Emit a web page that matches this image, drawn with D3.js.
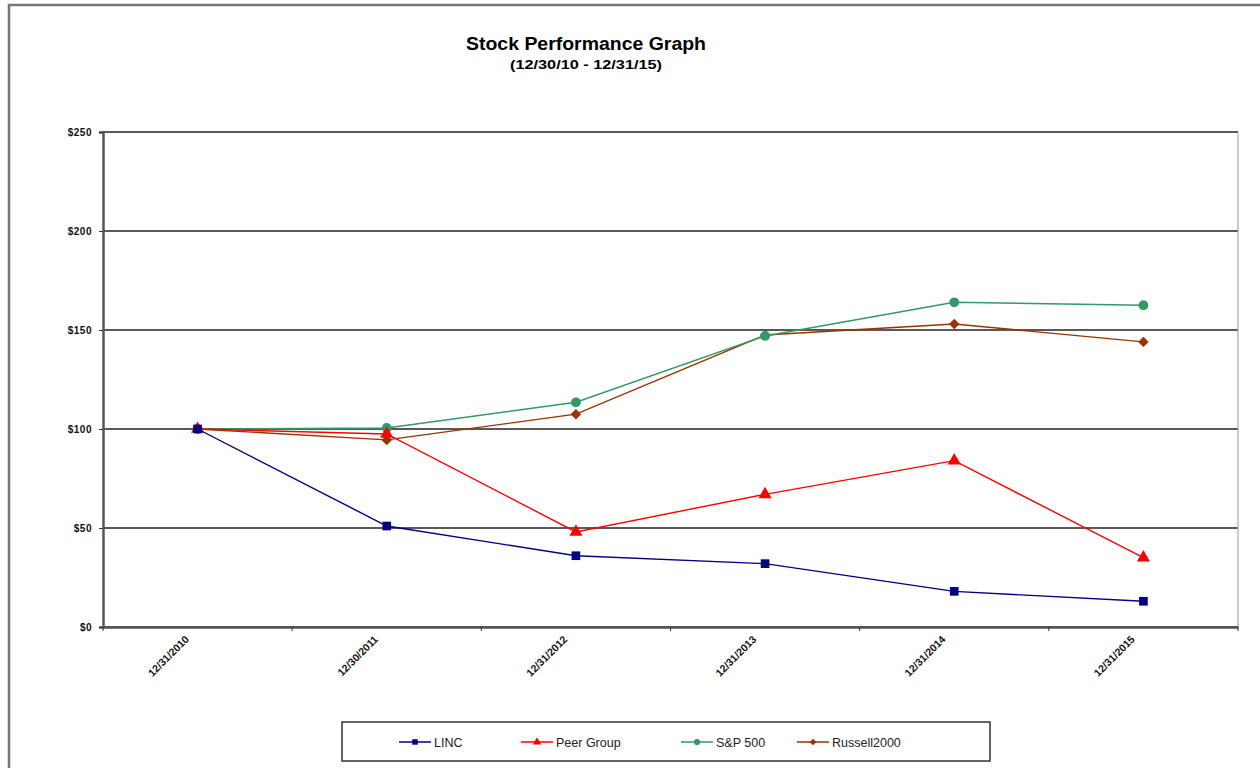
<!DOCTYPE html>
<html>
<head>
<meta charset="utf-8">
<script src="https://cdn.jsdelivr.net/npm/d3@7"></script>
<style>
  body { margin: 0; background: #fff; }
  text { font-family: "Liberation Sans", Arial, sans-serif; }
</style>
</head>
<body>
<div id="chart"></div>
<script>
const dates = ['12/31/2010', '12/30/2011', '12/31/2012', '12/31/2013', '12/31/2014', '12/31/2015'];
const linc = [100, 51, 36, 32, 18, 13];
const peer_group = [100, 97.5, 48, 67, 84, 35];
const sp500 = [100, 100.5, 113.5, 147, 164, 162.5];
const russell2000 = [100, 94.5, 107.5, 147.5, 153, 144];
const y_ticks = [0, 50, 100, 150, 200, 250];

const series = [
    {name: 'LINC', values: linc, color: '#000080', shape: 'square'},
    {name: 'Peer Group', values: peer_group, color: '#ff0000', shape: 'triangle'},
    {name: 'S&P 500', values: sp500, color: '#339966', shape: 'circle'},
    {name: 'Russell2000', values: russell2000, color: '#993300', shape: 'diamond'}
];

const width = 1260;
const height = 768;
const plot_left = 103;
const plot_right = 1238;
const plot_top = 132;
const plot_bottom = 627;

const svg = d3.select('#chart').append('svg')
    .attr('width', width)
    .attr('height', height);

// outer frame (runs off the right and bottom edge)
svg.append('path')
   .attr('d', 'M9,' + height + 'V5H' + width)
   .attr('fill', 'none')
   .attr('stroke', '#777')
   .attr('stroke-width', 2.5);

svg.append('text')
   .text('Stock Performance Graph')
   .attr('x', 586).attr('y', 50)
   .attr('text-anchor', 'middle')
   .attr('font-size', 18).attr('font-weight', 'bold')
   .attr('textLength', 240).attr('lengthAdjust', 'spacingAndGlyphs');

svg.append('text')
   .text('(12/30/10 - 12/31/15)')
   .attr('x', 586).attr('y', 69)
   .attr('text-anchor', 'middle')
   .attr('font-size', 13).attr('font-weight', 'bold')
   .attr('textLength', 152).attr('lengthAdjust', 'spacingAndGlyphs');

const x = d3.scaleBand()
    .domain(dates)
    .range([plot_left, plot_right]);

const y = d3.scaleLinear()
    .domain([0, 250])
    .range([plot_bottom, plot_top]);

// grid lines
svg.append('g')
   .selectAll('line')
   .data(y_ticks)
   .enter()
   .append('line')
   .attr('x1', plot_left).attr('x2', plot_right)
   .attr('y1', function(d){return y(d);})
   .attr('y2', function(d){return y(d);})
   .attr('stroke', '#222')
   .attr('stroke-width', 1.6);

// right border
svg.append('line')
   .attr('x1', plot_right).attr('x2', plot_right)
   .attr('y1', plot_top).attr('y2', plot_bottom)
   .attr('stroke', '#999').attr('stroke-width', 1);

// y axis
const y_axis = svg.append('g')
    .attr('transform', 'translate(' + plot_left + ',0)')
    .call(d3.axisLeft(y).tickValues(y_ticks).tickSize(4).tickFormat(function(d){return '$' + d;}));
y_axis.select('.domain').attr('stroke', '#555').attr('stroke-width', 2.5);
y_axis.selectAll('.tick line').attr('stroke', '#333');
y_axis.selectAll('.tick text')
      .attr('x', -11)
      .attr('font-size', 10).attr('font-weight', 'bold')
      .attr('letter-spacing', 0.5)
      .attr('fill', '#111');

// x axis
const x_axis = svg.append('g')
    .attr('transform', 'translate(0,' + plot_bottom + ')')
    .call(d3.axisBottom(x).tickSize(0).tickPadding(0));
x_axis.select('.domain').attr('stroke', '#555').attr('stroke-width', 2.5);
x_axis.selectAll('.tick text')
      .attr('font-size', 10.5).attr('font-weight', 'bold')
      .attr('fill', '#111')
      .attr('text-anchor', 'end')
      .attr('dy', 0)
      .attr('transform', 'translate(-8,13) rotate(-45)');

// tick marks between categories
const boundaries = dates.map(function(d){return x(d);}).concat([plot_right]);
svg.append('g')
   .selectAll('line')
   .data(boundaries)
   .enter()
   .append('line')
   .attr('x1', function(d){return d;}).attr('x2', function(d){return d;})
   .attr('y1', plot_bottom).attr('y2', plot_bottom + 4)
   .attr('stroke', '#333').attr('stroke-width', 1);

function markerPath(shape, size){
    const types = {
        square: d3.symbolSquare,
        triangle: d3.symbolTriangle,
        circle: d3.symbolCircle,
        diamond: d3.symbolSquare
    };
    return d3.symbol().type(types[shape]).size(size)();
}

function markerTransform(shape, px, py){
    return 'translate(' + px + ',' + py + ')' + (shape === 'diamond' ? ' rotate(45)' : '');
}

const line = d3.line()
    .x(function(d, i){return x(dates[i]) + x.bandwidth() / 2;})
    .y(function(d){return y(d);});

// draw in reverse so LINC ends up on top at the start point
series.slice().reverse().forEach(function(s){
    const g = svg.append('g');
    g.append('path')
     .attr('d', line(s.values))
     .attr('fill', 'none')
     .attr('stroke', s.color)
     .attr('stroke-width', 1.4);
    g.selectAll('path.marker')
     .data(s.values)
     .enter()
     .append('path')
     .attr('class', 'marker')
     .attr('d', markerPath(s.shape, s.shape === 'diamond' ? 55 : 75))
     .attr('transform', function(d, i){return markerTransform(s.shape, x(dates[i]) + x.bandwidth() / 2, y(d));})
     .attr('fill', s.color);
});

// legend
const legend = svg.append('g');
legend.append('rect')
      .attr('x', 342).attr('y', 722)
      .attr('width', 648).attr('height', 39)
      .attr('fill', '#fff')
      .attr('stroke', '#333').attr('stroke-width', 1.5);

const legend_x = [399, 521, 681, 797];
series.forEach(function(s, i){
    const lx = legend_x[i];
    const item = legend.append('g').attr('transform', 'translate(' + lx + ',742)');
    item.append('line')
        .attr('x1', 0).attr('x2', 32)
        .attr('stroke', s.color).attr('stroke-width', 1.5);
    item.append('path')
        .attr('d', markerPath(s.shape, s.shape === 'diamond' ? 22 : 30))
        .attr('transform', markerTransform(s.shape, 16, 0))
        .attr('fill', s.color);
    item.append('text')
        .text(s.name)
        .attr('x', 35).attr('y', 4.5)
        .attr('font-size', 12.5)
        .attr('fill', '#222');
});
</script>
</body>
</html>
